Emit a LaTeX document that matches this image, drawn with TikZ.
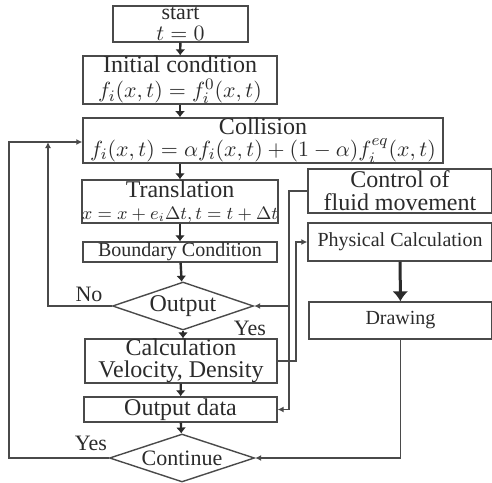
\documentclass[tikz,border=0pt]{standalone}
\usepackage{amsmath}
\usepackage{fontspec}
\setmainfont{Liberation Serif}
\usepackage{xcolor}
\usetikzlibrary{arrows.meta,shapes.geometric}
\definecolor{ink}{HTML}{2B2B2B}
\definecolor{framecolor}{HTML}{4A4A4A}
\newcommand{\formula}[2][11]{{\fontsize{#1}{#1}\selectfont$#2$}}
\tikzset{
  stepbox/.style={
    draw=framecolor,
    line width=0.7pt,
    align=center,
    inner sep=0pt,
    text=ink,
    font=\fontsize{12}{11}\selectfont
  },
  decision/.style={
    diamond,
    draw=framecolor,
    line width=0.7pt,
    aspect=3,
    inner sep=0pt,
    text=ink
  },
  branchlabel/.style={text=ink, inner sep=0pt, font=\fontsize{11}{11}\selectfont},
  mainarrow/.style={-{Latex[length=3pt,width=5pt]},line width=1.2pt,draw=ink},
  bigarrow/.style={-{Latex[length=5pt,width=8pt]},line width=1.5pt,draw=ink},
  thinarrow/.style={-{Latex[length=3pt,width=3pt]},line width=0.6pt,draw=framecolor}
}
\begin{document}
\begin{tikzpicture}[x=0.5pt,y=-0.5pt]
  \useasboundingbox (0,0) rectangle (492,482);
  % main column
  \node[stepbox, minimum width=67.5pt, minimum height=18pt, font=\fontsize{11}{10.5}\selectfont] (start) at (180.5,24) {start\\$t=0$};
  \node[stepbox, minimum width=97pt, minimum height=22pt, font=\fontsize{12}{12.5}\selectfont] (init) at (180,80) {Initial condition\\\formula{f_i(x,t)=f_i^0(x,t)}};
  \node[stepbox, minimum width=180pt, minimum height=21.5pt] (coll) at (263,140.5) {Collision\\\formula{f_i(x,t)=\alpha f_i(x,t)+(1-\alpha)f_i^{eq}(x,t)}};
  \node[stepbox, minimum width=97pt, minimum height=21.5pt] (trans) at (180,201.5) {Translation\\\formula[9]{x=x+e_i\Delta t,t=t+\Delta t}};
  \node[stepbox, minimum width=97pt, minimum height=10pt, font=\fontsize{10}{10}\selectfont] (bound) at (180,252) {Boundary Condition};
  \node[decision, minimum width=70.5pt, minimum height=24pt, font=\fontsize{12}{12}\selectfont] (out) at (183,306) {Output};
  \node[stepbox, minimum width=96pt, minimum height=21pt] (calc) at (181,361) {Calculation\\Velocity, Density};
  \node[stepbox, minimum width=96.5pt, minimum height=12.5pt] (data) at (180.5,409.5) {Output data};
  \node[decision, minimum width=72.5pt, minimum height=24pt, font=\fontsize{11}{11}\selectfont] (cont) at (182,458) {Continue};
  % side column
  \node[stepbox, minimum width=92pt, minimum height=22pt, font=\fontsize{12}{11.5}\selectfont] (ctrl) at (400,191) {Control of\\fluid movement};
  \node[stepbox, minimum width=92pt, minimum height=19pt, font=\fontsize{10}{10}\selectfont] (phys) at (400,242) {Physical Calculation};
  \node[stepbox, minimum width=91.5pt, minimum height=18.5pt, font=\fontsize{10}{10}\selectfont] (drawing) at (400.5,320.5) {Drawing};
  % branch labels
  \node[branchlabel] (nolabel) at (89,294) {No};
  \node[branchlabel] (yesout) at (250,328) {Yes};
  \node[branchlabel] (yescont) at (91,443) {Yes};
  % free ends of the connectors
  \coordinate (outerleft) at (9,142);
  \coordinate (innerleft) at (48,142);
  \coordinate (busout) at (289,409.5);
  \coordinate (busmid) at (289,306);
  \coordinate (buscalc) at (296,242);
  % flow
  \draw[mainarrow] (start) -- (init);
  \draw[mainarrow] (init) -- (init |- coll.north);
  \draw[mainarrow] (trans |- coll.south) -- (trans);
  \draw[mainarrow] (trans) -- (bound);
  \draw[mainarrow] (bound) -- (out);
  \draw[mainarrow] (out.south) -- (calc.north -| out.south);
  \draw[mainarrow] (calc) -- (data);
  \draw[mainarrow] (data) -- (cont);
  \draw[thinarrow] (cont.west) -| (outerleft) -- (coll.west |- outerleft);
  \draw[thinarrow] (out.west) -| (innerleft);
  \draw[thinarrow] (ctrl.west) -| (busout) -- (data.east);
  \draw[thinarrow] (busmid) -- (out.east);
  \draw[thinarrow] (calc.east) -| (buscalc) -- (phys.west);
  \draw[bigarrow] (phys) -- (drawing);
  \draw[thinarrow] (drawing.south) |- (cont.east);
\end{tikzpicture}
\end{document}
